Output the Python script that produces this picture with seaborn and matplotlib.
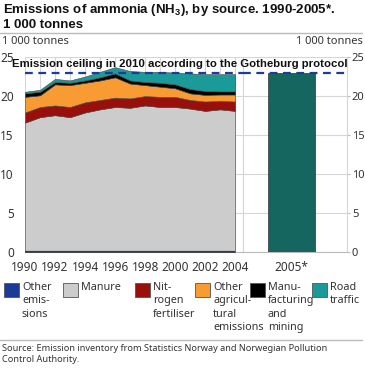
import matplotlib
matplotlib.use("Agg")
import matplotlib.pyplot as plt
from matplotlib.patches import Rectangle
from matplotlib.lines import Line2D
import seaborn as sns

# data, 1 000 tonnes NH3
years = list(range(1990, 2005))
other_emissions = [0.1] * 15
manure = [16.5, 17.2, 17.45, 17.2, 17.8, 18.2, 18.5, 18.4, 18.7, 18.5, 18.5, 18.3, 18.0, 18.2, 18.0]
fertiliser = [1.3, 1.3, 1.25, 1.3, 1.3, 1.2, 1.2, 1.2, 1.2, 1.3, 1.3, 1.1, 1.2, 1.1, 1.2]
other_agri = [2.0, 1.5, 2.7, 2.8, 2.5, 2.5, 2.6, 1.9, 1.4, 1.3, 1.1, 0.85, 0.85, 0.8, 0.9]
manufacturing = [0.45, 0.45, 0.3, 0.3, 0.3, 0.4, 0.5, 0.4, 0.4, 0.5, 0.5, 0.55, 0.5, 0.4, 0.4]
road_traffic = [0.2, 0.25, 0.4, 0.3, 0.5, 0.7, 0.8, 1.2, 1.3, 1.4, 1.5, 2.0, 2.15, 2.2, 2.2]
total_2005 = 22.9
ceiling_2010 = 23

labels = ["Other\nemis-\nsions", "Manure", "Nit-\nrogen\nfertiliser",
          "Other\nagricul-\ntural\nemissions", "Manu-\nfacturing\nand\nmining", "Road\ntraffic"]
colors = ["#1b3b9a", "#cccccc", "#990f0b", "#f89b33", "#000000", "#1a9a98"]

sns.set_style("whitegrid", {"grid.color": "#d6d6d6", "axes.edgecolor": "#d6d6d6"})
plt.rcParams["font.family"] = ["Noto Sans", "DejaVu Sans"]
plt.rcParams["mathtext.default"] = "regular"
BOLD = ["Liberation Sans", "DejaVu Sans"]

W, H = 365, 370
fig = plt.figure(figsize=(W / 100, H / 100), dpi=100)

def fx(px):
    return px / W

def fy(py):
    return 1 - py / H

bottom = fy(252.3)
height = fy(57) - bottom
ax1 = fig.add_axes([fx(25), bottom, fx(242.7) - fx(25), height])
ax2 = fig.add_axes([fx(242.7), bottom, fx(347) - fx(242.7), height])

# stacked area 1990-2004
ax1.stackplot(years, other_emissions, manure, fertiliser, other_agri, manufacturing, road_traffic,
              colors=colors, edgecolor="#444444", linewidth=0.4, zorder=3)
ax1.plot(years, [v / 2 for v in other_emissions], color=colors[0], lw=1.6, zorder=4, solid_capstyle="butt")
ax1.set_xlim(1990, 2004.5)
ax1.set_ylim(0, 25)
ax1.set_xticks(years)
ax1.set_xticklabels([str(y) if y % 2 == 0 else "" for y in years])
ax1.set_yticks(range(0, 26, 5))
ax1.tick_params(axis="x", length=3, color="#bbbbbb", pad=3, labelsize=8.5, labelcolor="#333333")
ax1.tick_params(axis="y", length=0, pad=8, labelsize=8.5, labelcolor="#333333")
ax1.grid(True, lw=0.8)
for s in ["top", "left"]:
    ax1.spines[s].set_visible(False)
ax1.spines["right"].set_visible(True)
ax1.spines["bottom"].set_color("#bbbbbb")

# 2005 bar
sns.barplot(x=["2005*"], y=[total_2005], ax=ax2, color="#14665f", width=0.5,
            edgecolor="#333333", linewidth=0.5, saturation=1, zorder=3)
ax2.set_xlim(-0.52, 0.59)
ax2.set_ylim(0, 25)
ax2.set_yticks(range(0, 26, 5))
ax2.yaxis.tick_right()
ax2.set_xlabel("")
ax2.set_ylabel("")
ax2.tick_params(axis="x", length=0, pad=6, labelsize=8.5, labelcolor="#333333")
ax2.tick_params(axis="y", length=2, color="#bbbbbb", pad=1.5, labelsize=8, labelcolor="#333333")
ax2.grid(False, axis="x")
ax2.spines["top"].set_visible(False)
ax2.spines["bottom"].set_color("#bbbbbb")

# emission ceiling
for ax in (ax1, ax2):
    ax.axhline(ceiling_2010, color="#1c3c9c", lw=1.6, ls=(0, (3.5, 2.5)), zorder=5)
fig.text(fx(180), fy(64), "Emission ceiling in 2010 according to the Gotheburg protocol",
         ha="center", va="center", fontsize=8.2, fontweight="bold", family=BOLD, color="#111111")

# title and units
fig.text(fx(3), fy(2), "Emissions of ammonia (NH$_3$), by source. 1990-2005*.\n1 000 tonnes",
         ha="left", va="top", fontsize=9.5, fontweight="bold", family=BOLD, linespacing=1.15, color="#111111")
fig.add_artist(Line2D([0, fx(362)], [fy(32.5), fy(32.5)], color="#bbbbbb", lw=1))
fig.text(fx(2), fy(42), "1 000 tonnes", ha="left", va="center", fontsize=8, color="#333333")
fig.text(fx(363), fy(42), "1 000 tonnes", ha="right", va="center", fontsize=8, color="#333333")

# legend
patch_x = [4, 63, 135, 195, 250, 312]
for lab, col, px in zip(labels, colors, patch_x):
    fig.add_artist(Rectangle((fx(px), fy(297)), 15 / W, 14 / H, transform=fig.transFigure,
                             facecolor=col, edgecolor="#555555", lw=0.6))
    fig.text(fx(px + 18), fy(282), lab, ha="left", va="top", fontsize=7.8,
             linespacing=1.3, color="#333333")

fig.add_artist(Line2D([0, fx(362)], [fy(340), fy(340)], color="#bbbbbb", lw=1))
fig.text(fx(2), fy(344), "Source: Emission inventory from Statistics Norway and Norwegian Pollution\nControl Authority.",
         ha="left", va="top", fontsize=6.6, linespacing=1.25, color="#333333")

fig.savefig("out.png", dpi=100)
